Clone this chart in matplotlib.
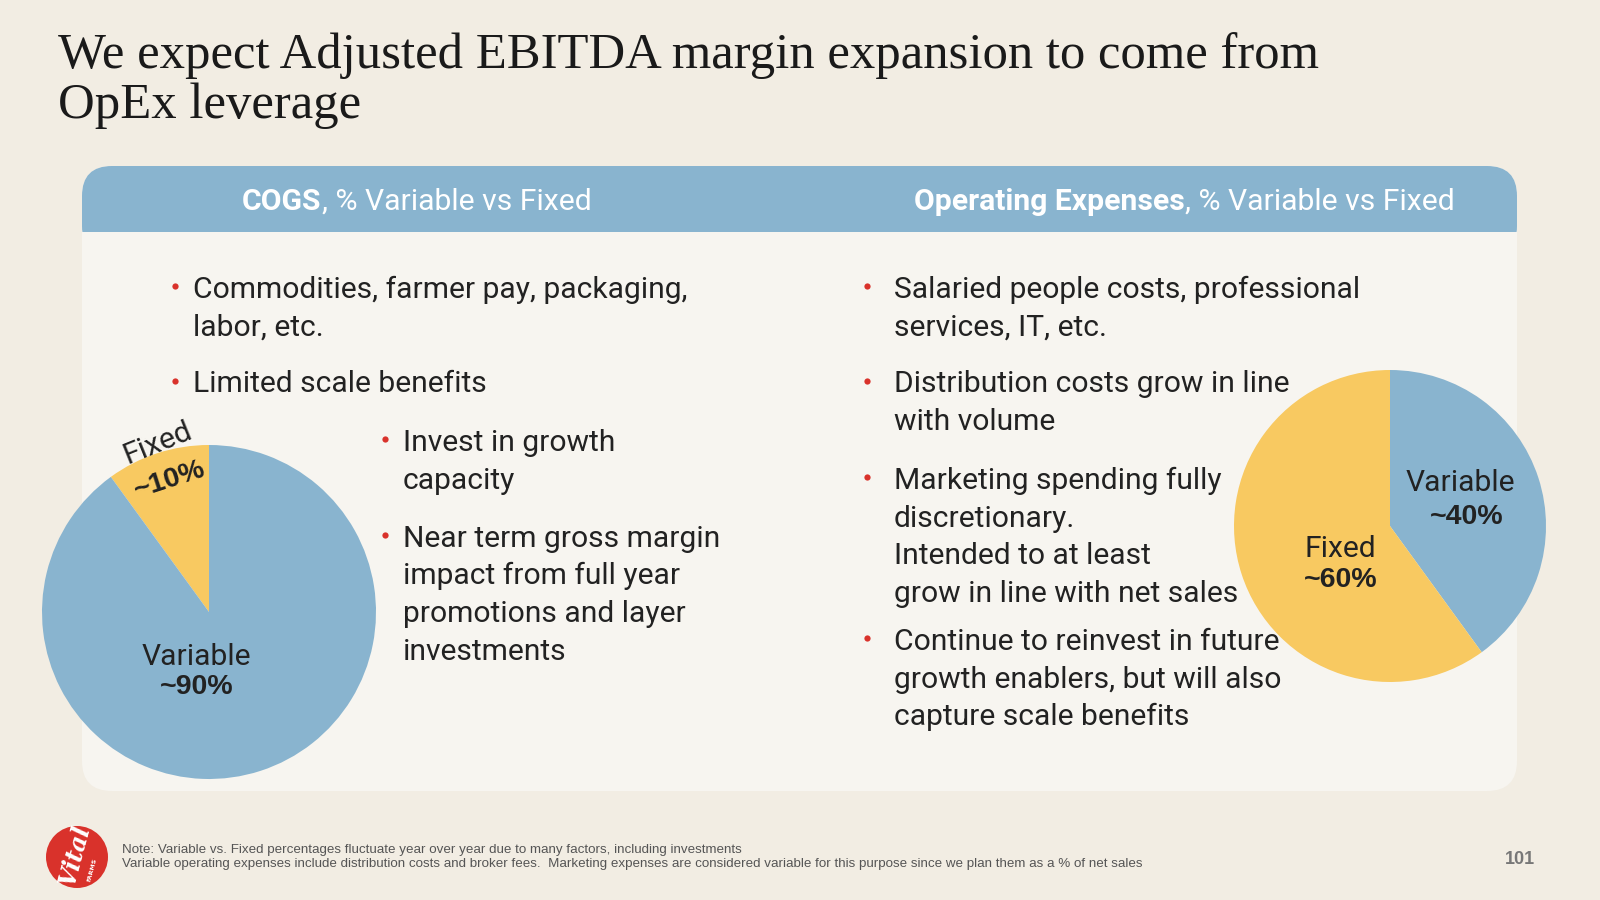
import matplotlib.pyplot as plt
from matplotlib.patches import FancyBboxPatch, Rectangle, Circle

# ---- slide content ----
title_lines = ["We expect Adjusted EBITDA margin expansion to come from",
               "OpEx leverage"]
head_bold = ["COGS", "Operating Expenses"]
head_rest = [", % Variable vs Fixed", ", % Variable vs Fixed"]

cogs_labels = ["Fixed", "Variable"]
cogs_share = [10, 90]
cogs_pct = ["~10%", "~90%"]

opex_labels = ["Variable", "Fixed"]
opex_share = [40, 60]
opex_pct = ["~40%", "~60%"]

cogs_top = [["Commodities, farmer pay, packaging,", "labor, etc."],
            ["Limited scale benefits"]]
cogs_side = [["Invest in growth", "capacity"],
             ["Near term gross margin", "impact from full year",
              "promotions and layer", "investments"]]
opex_points = [["Salaried people costs, professional", "services, IT, etc."],
               ["Distribution costs grow in line", "with volume"],
               ["Marketing spending fully", "discretionary.",
                "Intended to at least", "grow in line with net sales"],
               ["Continue to reinvest in future", "growth enablers, but will also",
                "capture scale benefits"]]

notes = ["Note: Variable vs. Fixed percentages fluctuate year over year due to many factors, including investments",
         "Variable operating expenses include distribution costs and broker fees.  Marketing expenses are considered variable for this purpose since we plan them as a % of net sales"]
page_no = "101"

# ---- colours ----
BG = "#f2ede3"
PANEL = "#f7f5f0"
BLUE = "#89b4cf"
YELLOW = "#f8c961"
RED = "#d9322b"
INK = "#222222"

W, H = 1600, 900
fig = plt.figure(figsize=(16, 9), dpi=100, facecolor=BG)
ax = fig.add_axes([0, 0, 1, 1])
ax.set_xlim(0, W)
ax.set_ylim(H, 0)
ax.axis("off")

# title
for i, line in enumerate(title_lines):
    ax.text(58, 68 + i * 50, line, fontsize=36.5, family="Liberation Serif",
            color="#1a1a1a", va="baseline")

# panel with blue header band
x0, x1, y0, y1 = 82, 1517, 166, 791
ax.add_patch(FancyBboxPatch((x0, y0), x1 - x0, y1 - y0,
                            boxstyle="round,pad=0,rounding_size=30",
                            fc=PANEL, ec="none"))
ax.add_patch(FancyBboxPatch((x0, y0), x1 - x0, 90,
                            boxstyle="round,pad=0,rounding_size=30",
                            fc=BLUE, ec="none"))
ax.add_patch(Rectangle((x0, 232), x1 - x0, 40, fc=PANEL, ec="none"))

for xs, b, r in zip([242, 914], head_bold, head_rest):
    t = ax.text(xs, 210, b, fontsize=21.7, family="Roboto", weight="bold",
                color="white", va="baseline")
    ax.annotate(r, xy=(1, 0), xycoords=t, fontsize=21.7, family="Roboto",
                color="white", va="bottom")


def bullets(blocks, x_dot, x_txt, starts, pitch=37.8):
    for lines, ys in zip(blocks, starts):
        ax.plot(x_dot, ys - 12, "o", ms=4.5, color=RED, mec="none")
        for k, line in enumerate(lines):
            ax.text(x_txt, ys + k * pitch, line, fontsize=21.6, family="Roboto",
                    color=INK, va="baseline")


bullets(cogs_top, 175, 193, [297.5, 392.5])
bullets(cogs_side, 385, 403, [451, 546.7])
bullets(opex_points, 867, 894, [297.5, 392.5, 488.8, 649.8])

# footer
ax.add_patch(Circle((77, 857), 31, fc=RED, ec="none"))
ax.text(75, 855, "Vital", color="white", fontsize=17, family="DejaVu Serif",
        style="italic", weight="bold", rotation=75, ha="center", va="center")
ax.text(92, 870, "FARMS", color="white", fontsize=4.5, weight="bold",
        rotation=75, ha="center", va="center")
for i, n in enumerate(notes):
    ax.text(122, 853 + i * 14.5, n, fontsize=9.6, family="Liberation Sans",
            color="#555555", va="baseline")
ax.text(1520, 864, page_no, fontsize=13, weight="bold", family="Liberation Sans",
        color="#777777", ha="center", va="baseline")


def pie_axes(cx, cy, r):
    pa = fig.add_axes([(cx - r) / W, (H - cy - r) / H, 2 * r / W, 2 * r / H])
    return pa


LBL = 21.6
PCT = 20.5

# COGS pie
pa = pie_axes(209, 612, 167)
pa.pie(cogs_share, colors=[YELLOW, BLUE], startangle=90, counterclock=True,
       wedgeprops=dict(linewidth=0))
pa.set_xlim(-1, 1)
pa.set_ylim(-1, 1)
pa.text(-0.31, 1.01, cogs_labels[0], fontsize=LBL, family="Roboto", color=INK,
        rotation=22, ha="center", va="center", rotation_mode="anchor")
pa.text(-0.237, 0.79, cogs_pct[0], fontsize=PCT, family="Liberation Sans",
        weight="bold", color=INK, rotation=18, ha="center", va="center",
        rotation_mode="anchor")
pa.text(-0.074, -0.27, cogs_labels[1], fontsize=LBL, family="Roboto", color=INK,
        ha="center", va="center")
pa.text(-0.074, -0.45, cogs_pct[1], fontsize=PCT, family="Liberation Sans",
        weight="bold", color=INK, ha="center", va="center")

# OpEx pie
pb = pie_axes(1390, 526, 156)
pb.pie(opex_share, colors=[BLUE, YELLOW], startangle=90, counterclock=False,
       wedgeprops=dict(linewidth=0))
pb.set_xlim(-1, 1)
pb.set_ylim(-1, 1)
pb.text(0.453, 0.278, opex_labels[0], fontsize=LBL, family="Roboto", color=INK,
        ha="center", va="center")
pb.text(0.492, 0.059, opex_pct[0], fontsize=PCT, family="Liberation Sans",
        weight="bold", color=INK, ha="center", va="center")
pb.text(-0.316, -0.149, opex_labels[1], fontsize=LBL, family="Roboto", color=INK,
        ha="center", va="center")
pb.text(-0.316, -0.346, opex_pct[1], fontsize=PCT, family="Liberation Sans",
        weight="bold", color=INK, ha="center", va="center")

fig.savefig("out.png", dpi=100, facecolor=BG)
